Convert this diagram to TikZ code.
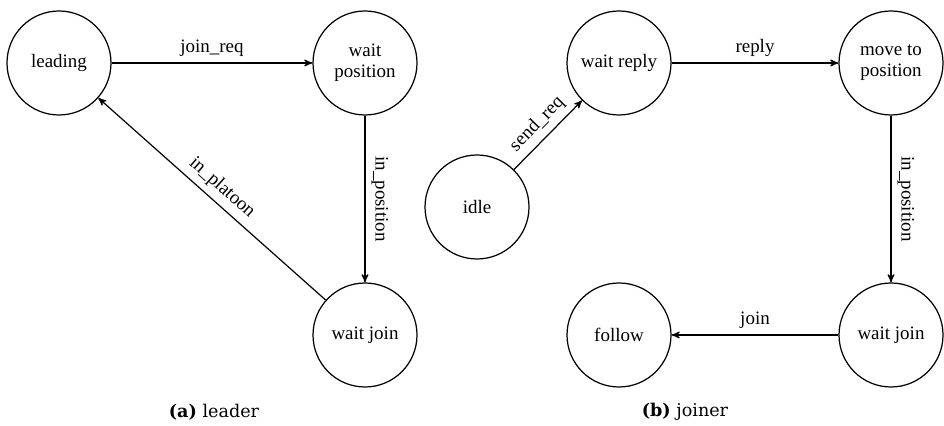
\documentclass[tikz,border=0pt]{standalone}
\usepackage{fontspec}
\setmainfont{Liberation Serif}
\newfontfamily\capfont{DejaVu Serif}
\usetikzlibrary{arrows}

\begin{document}
\begin{tikzpicture}[
    state/.style={circle,draw,line width=0.7pt,minimum size=2.08cm,inner sep=1pt,
      align=center,font=\fontsize{10.8}{12}\selectfont},
    trans/.style={-stealth',line width=0.7pt},
    lbl/.style={font=\fontsize{10.8}{12}\selectfont},
    subcap/.style={font=\capfont\fontsize{10}{12}\selectfont}
  ]
        \useasboundingbox (0,0) rectangle (18.88,8.52);
        % Leader
        \node[state] (leading) at (1.18,7.26) {leading};
        \node[state] (waitpos) at (7.30,7.26) {wait\\position};
        \node[state] (waitjoinA) at (7.30,1.82) {wait join};
        \draw[trans] (leading) -- node[lbl,above] {join\_req} (waitpos);
        \draw[trans] (waitpos) -- node[lbl,above,sloped] {in\_position} (waitjoinA);
        \draw[trans] (waitjoinA) -- node[lbl,above,sloped] {in\_platoon} (leading);
        \node[subcap] (capA) at (4.28,0.28) {\textbf{(a)} leader};
        % Joiner
        \node[state] (idle) at (9.54,4.38) {idle};
        \node[state] (waitreply) at (12.38,7.26) {wait reply};
        \node[state] (movepos) at (17.82,7.26) {move to\\position};
        \node[state] (waitjoinB) at (17.82,1.82) {wait join};
        \node[state] (follow) at (12.38,1.82) {follow};
        \draw[trans] (idle) -- node[lbl,above,sloped] {send\_req} (waitreply);
        \draw[trans] (waitreply) -- node[lbl,above] {reply} (movepos);
        \draw[trans] (movepos) -- node[lbl,above,sloped] {in\_position} (waitjoinB);
        \draw[trans] (waitjoinB) -- node[lbl,above] {join} (follow);
        \node[subcap] (capB) at (13.70,0.28) {\textbf{(b)} joiner};
      \end{tikzpicture}
\end{document}
